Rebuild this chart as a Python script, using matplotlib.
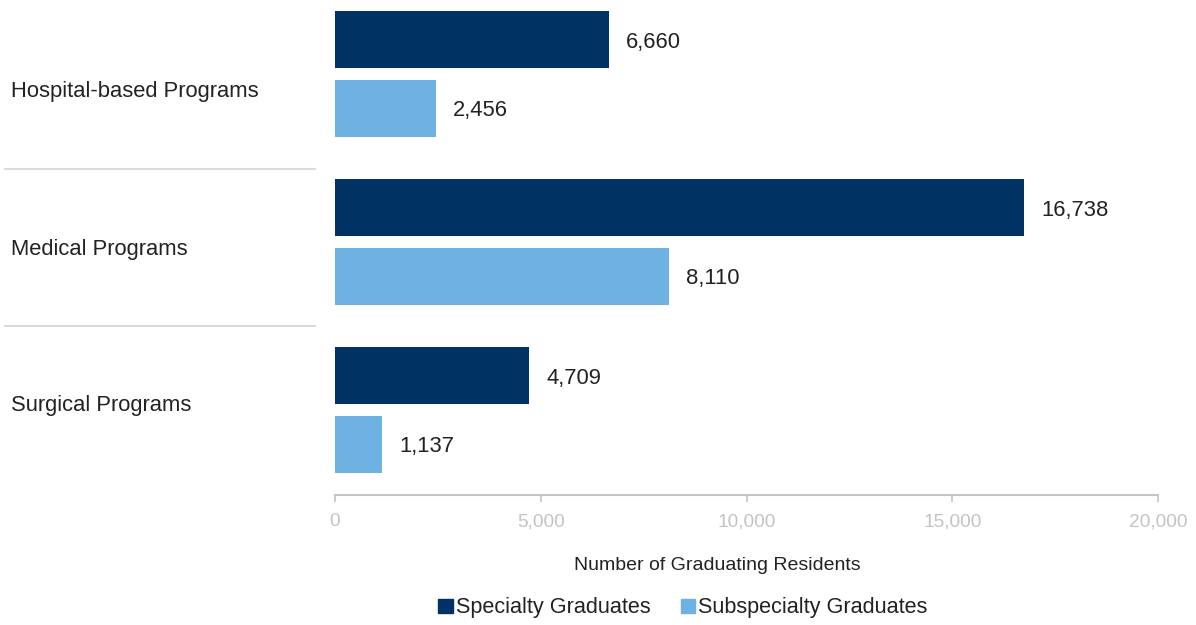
import numpy as np
import matplotlib.pyplot as plt
from matplotlib.patches import Patch

plt.rcParams['font.family'] = ['Liberation Sans', 'DejaVu Sans']

categories = ["Hospital-based Programs", "Medical Programs", "Surgical Programs"]
specialty = [6660, 16738, 4709]
subspecialty = [2456, 8110, 1137]
series_names = ["Specialty Graduates", "Subspecialty Graduates"]
xticks = [0, 5000, 10000, 15000, 20000]

dark = "#003263"
light = "#6DB2E3"
grey = "#C4C4C4"
txt = "#222222"

fig = plt.figure(figsize=(11.96, 6.25), dpi=100)
ax = fig.add_axes([335 / 1196, 1 - 495 / 625, 823 / 1196, 495 / 625])

y = np.arange(len(categories))
h = 0.339
off = 0.205
ax.barh(y - off, specialty, height=h, color=dark)
ax.barh(y + off, subspecialty, height=h, color=light)

for i in range(len(categories)):
    ax.text(specialty[i] + 420, y[i] - off + 0.015, f"{specialty[i]:,}", va="center",
            ha="left", fontsize=15.8, color=txt)
    ax.text(subspecialty[i] + 420, y[i] + off + 0.015, f"{subspecialty[i]:,}", va="center",
            ha="left", fontsize=15.8, color=txt)

ax.set_xlim(0, 20000)
ax.set_ylim(2.506, -0.44)
ax.set_xticks(xticks)
ax.set_xticklabels([f"{t:,}" for t in xticks], fontsize=13.8, color=grey)
ax.set_yticks([])
for s in ["top", "right", "left"]:
    ax.spines[s].set_visible(False)
ax.spines["bottom"].set_color(grey)
ax.spines["bottom"].set_linewidth(1.5)
ax.tick_params(axis="x", color=grey, length=5, width=1.2, pad=8)

# category labels on the left
lab_y = [91, 249, 405]
for name, py in zip(categories, lab_y):
    fig.text(11 / 1196, 1 - py / 625, name, ha="left", va="center",
             fontsize=15.8, color=txt)

# separators between groups
for py in [169, 326]:
    fig.add_artist(plt.Line2D([5 / 1196, 315 / 1196], [1 - py / 625, 1 - py / 625],
                              color="#D9D9D9", linewidth=1.5))

fig.text(717 / 1196, 1 - 565 / 625, "Number of Graduating Residents",
         ha="center", va="center", fontsize=14, color=txt)

handles = [Patch(color=dark), Patch(color=light)]
fig.legend(handles, series_names, loc="center", bbox_to_anchor=(683 / 1196, 1 - 608 / 625),
           ncol=2, frameon=False, fontsize=15.6, handlelength=0.65, handleheight=0.65,
           handletextpad=0.15, columnspacing=1.4, labelcolor=txt)

fig.savefig("out.png", dpi=100)
